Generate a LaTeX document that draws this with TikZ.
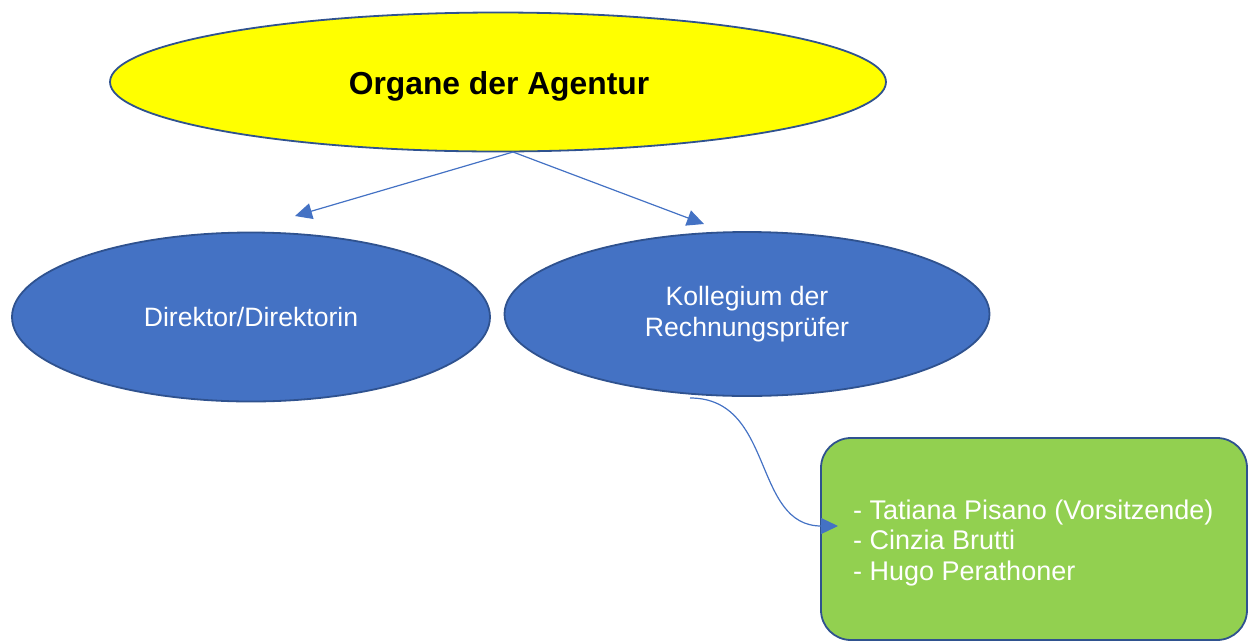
\documentclass[tikz,border=0pt]{standalone}
\usepackage{fontspec}
\setmainfont{Liberation Sans}
\usetikzlibrary{shapes.geometric,arrows.meta}
\definecolor{edgeblue}{HTML}{2F528F}
\definecolor{fillblue}{HTML}{4472C4}
\definecolor{fillgreen}{HTML}{92D050}
\definecolor{fillyellow}{HTML}{FFFF00}
\tikzset{
  oval/.style={ellipse, draw=edgeblue, line width=1.8pt, inner sep=0pt, align=center},
  conn/.style={draw=fillblue, line width=1.2pt, -{Triangle[length=17pt,width=16pt]}},
  bodytext/.style={font=\fontsize{26.6}{30.8}\selectfont}
}
\begin{document}
\begin{tikzpicture}[x=1pt,y=-1pt]
\useasboundingbox (0,0) rectangle (1248,641);
\node[oval, fill=fillyellow, minimum width=776pt, minimum height=139pt] (top) at (498,82) {};
\node[inner sep=0pt, font=\fontsize{31.8}{36}\selectfont\bfseries] (title) at (499,86) {Organe der Agentur};
\node[oval, fill=fillblue, minimum width=478pt, minimum height=169pt, text=white, bodytext]
      (dir) at (251,317) {Direktor/Direktorin};
\node[oval, fill=fillblue, minimum width=485pt, minimum height=164pt, text=white, bodytext]
      (koll) at (747,314) {Kollegium der\\Rechnungsprüfer};
\node[draw=edgeblue, line width=1.8pt, fill=fillgreen, rounded corners=30pt,
      minimum width=426pt, minimum height=202pt] (box) at (1034,539) {};
\node[anchor=west, align=left, text=white, inner sep=0pt,
      font=\fontsize{27}{30.8}\selectfont] (members) at (853,543)
      {- Tatiana Pisano (Vorsitzende)\\- Cinzia Brutti\\- Hugo Perathoner};
\coordinate (split) at (513,152);
\coordinate (tipL) at (295,216);
\coordinate (tipR) at (704,224);
\coordinate (cstart) at (690,398);
\coordinate (cend) at (838,526);
\draw[conn] (split) -- (tipL);
\draw[conn] (split) -- (tipR);
\draw[conn] (cstart) .. controls (775,398) and (752,526) .. (cend);
\end{tikzpicture}
\end{document}
